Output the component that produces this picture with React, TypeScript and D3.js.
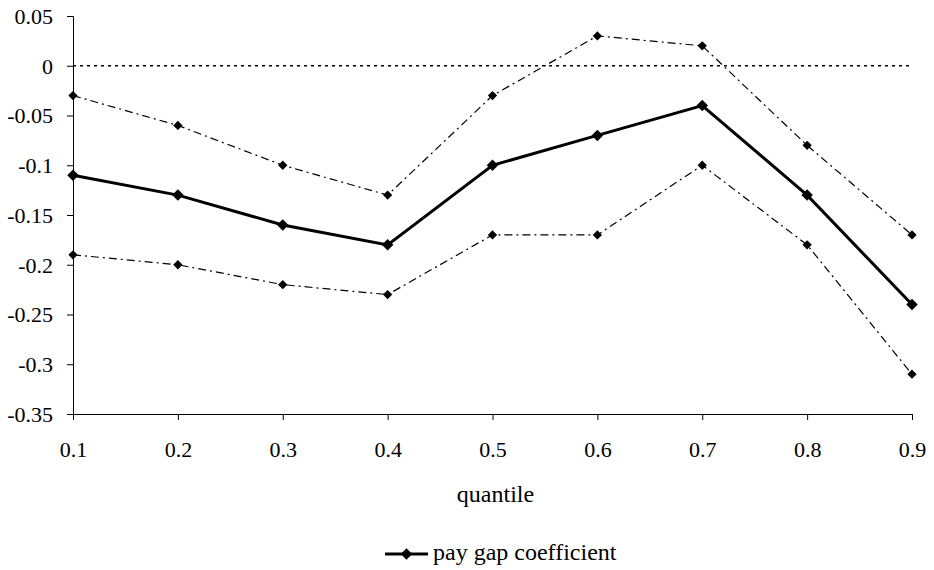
import React, { useRef, useEffect } from "react";
import * as d3 from "d3";

// quantiles on x axis
const quantiles = [0.1, 0.2, 0.3, 0.4, 0.5, 0.6, 0.7, 0.8, 0.9];
// pay gap coefficient and its confidence bounds
const coefficient = [-0.11, -0.13, -0.16, -0.18, -0.1, -0.07, -0.04, -0.13, -0.24];
const upperBound = [-0.03, -0.06, -0.1, -0.13, -0.03, 0.03, 0.02, -0.08, -0.17];
const lowerBound = [-0.19, -0.2, -0.22, -0.23, -0.17, -0.17, -0.1, -0.18, -0.31];
const yTicks = [0.05, 0, -0.05, -0.1, -0.15, -0.2, -0.25, -0.3, -0.35];

const App = () => {
  const svgRef = useRef(null);

  useEffect(() => {
    const width = 934;
    const height = 570;
    const svg = d3.select(svgRef.current).attr("width", width).attr("height", height);
    svg.selectAll("*").remove();

    const font = "'Liberation Serif', 'Times New Roman', serif";

    const xScale = d3.scalePoint<number>().domain(quantiles).range([73, 912]);
    const yScale = d3.scaleLinear().domain([-0.35, 0.05]).range([414, 16]);

    // y axis
    const yAxis = d3
      .axisLeft(yScale)
      .tickValues(yTicks)
      .tickSize(6)
      .tickFormat((d) => {
        const v = +d;
        if (v === 0) return "0";
        return d3.format(".2~f")(v).replace("−", "-");
      });
    const yg = svg
      .append("g")
      .attr("transform", `translate(${xScale(0.1)},0)`)
      .call(yAxis)
      .attr("font-family", font)
      .attr("font-size", 22);
    yg.select(".domain").attr("stroke", "#000").attr("stroke-width", 1);
    yg.selectAll(".tick line").attr("stroke", "#000");
    yg.selectAll(".tick text").attr("x", -20).attr("dy", "0.34em").attr("fill", "#000");

    // x axis
    const xAxis = d3.axisBottom(xScale).tickSizeInner(6).tickSizeOuter(0).tickFormat((d) => `${d}`);
    const xg = svg
      .append("g")
      .attr("transform", `translate(0,${yScale(-0.35)})`)
      .call(xAxis)
      .attr("font-family", font)
      .attr("font-size", 22);
    xg.select(".domain").attr("stroke", "#000");
    xg.selectAll(".tick line").attr("stroke", "#000");
    xg.selectAll(".tick text").attr("y", 43).attr("dy", "0").attr("fill", "#000");

    // zero line
    svg
      .append("line")
      .attr("x1", xScale(0.1))
      .attr("x2", xScale(0.9))
      .attr("y1", yScale(0))
      .attr("y2", yScale(0))
      .attr("stroke", "#000")
      .attr("stroke-width", 1.5)
      .attr("stroke-dasharray", "3,4");

    const line = d3
      .line<number>()
      .x((d, i) => xScale(quantiles[i]))
      .y((d) => yScale(d));

    const diamond = d3.symbol().type(d3.symbolDiamond2);

    const drawSeries = (values, width, dash, size) => {
      svg
        .append("path")
        .datum(values)
        .attr("d", line)
        .attr("fill", "none")
        .attr("stroke", "#000")
        .attr("stroke-width", width)
        .attr("stroke-dasharray", dash);
      svg
        .append("g")
        .selectAll("path")
        .data(values)
        .join("path")
        .attr("d", diamond.size(size))
        .attr("transform", (d, i) => `translate(${xScale(quantiles[i])},${yScale(d)})`)
        .attr("fill", "#000");
    };

    drawSeries(upperBound, 1.2, "8,4,2,4", 55);
    drawSeries(lowerBound, 1.2, "8,4,2,4", 55);
    drawSeries(coefficient, 3, null, 85);

    // axis title
    svg
      .append("text")
      .attr("x", (xScale(0.1) + xScale(0.9)) / 2 + 3)
      .attr("y", 502)
      .attr("text-anchor", "middle")
      .attr("font-family", font)
      .attr("font-size", 24)
      .text("quantile");

    // legend
    const lg = svg.append("g").attr("transform", "translate(385,554)");
    lg.append("line").attr("x1", 0).attr("x2", 43).attr("stroke", "#000").attr("stroke-width", 3);
    lg.append("path").attr("d", diamond.size(85)).attr("transform", "translate(21.5,0)");
    lg.append("text")
      .attr("x", 48)
      .attr("y", 6)
      .attr("font-family", font)
      .attr("font-size", 24)
      .text("pay gap coefficient");
  }, []);

  return (
    <div style={{ position: "absolute", left: 0, top: 0 }}>
      <svg ref={svgRef} style={{ display: "block", background: "#fff" }} />
    </div>
  );
};

export default App;
